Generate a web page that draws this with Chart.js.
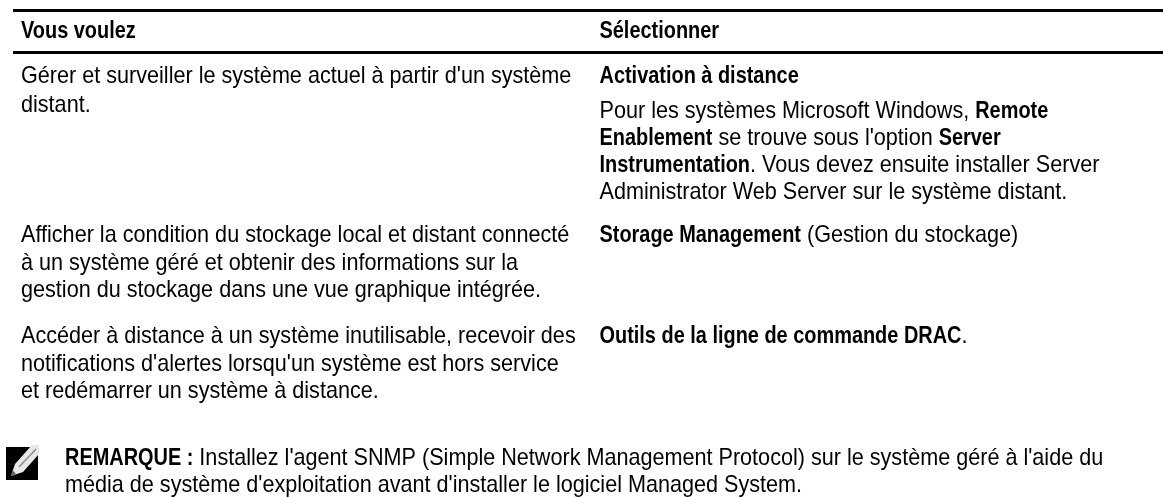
<!DOCTYPE html>
<html>
<head>
<meta charset="utf-8">
<style>
html, body { margin: 0; padding: 0; background: #fff; }
#wrap { width: 1163px; height: 497px; }
</style>
<script src="https://cdn.jsdelivr.net/npm/chart.js@4/dist/chart.umd.js"></script>
</head>
<body>
<div id="wrap"><canvas id="chart" width="1163" height="497"></canvas></div>
<script>
// text pieces, [string, bold]
const headerLeft = [["Vous voulez", 1]];
const headerRight = [["Sélectionner", 1]];
const leftLines = [
    [["Gérer et surveiller le système actuel à partir d'un système", 0]],
    [["distant.", 0]],
    [["Afficher la condition du stockage local et distant connecté", 0]],
    [["à un système géré et obtenir des informations sur la", 0]],
    [["gestion du stockage dans une vue graphique intégrée.", 0]],
    [["Accéder à distance à un système inutilisable, recevoir des", 0]],
    [["notifications d'alertes lorsqu'un système est hors service", 0]],
    [["et redémarrer un système à distance.", 0]]
];
const rightLines = [
    [["Activation à distance", 1]],
    [["Pour les systèmes Microsoft Windows, ", 0], ["Remote", 1]],
    [["Enablement", 1], [" se trouve sous l'option ", 0], ["Server", 1]],
    [["Instrumentation", 1], [". Vous devez ensuite installer Server", 0]],
    [["Administrator Web Server sur le système distant.", 0]],
    [["Storage Management", 1], [" (Gestion du stockage)", 0]],
    [["Outils de la ligne de commande DRAC", 1], [".", 0]]
];
const noteLines = [
    [["REMARQUE :", 1], [" Installez l'agent SNMP (Simple Network Management Protocol) sur le système géré à l'aide du", 0]],
    [["média de système d'exploitation avant d'installer le logiciel Managed System.", 0]]
];
const headerY = 38;
const leftY = [83, 112, 242, 270, 297, 343, 371, 398];
const rightY = [83, 118, 145, 172, 199, 242, 343];
const noteY = [465, 492];
const ruleY = [10.5, 52.5];
const ruleX = [13, 1163];

const fontFamily = '"Liberation Sans", sans-serif';
const fontSize = 24;
const regularSqueeze = 0.9;
const boldSqueeze = 0.83;

function drawRuns(ctx, runs, x, y) {
    runs.forEach(function (run) {
        const squeeze = run[1] ? boldSqueeze : regularSqueeze;
        ctx.font = (run[1] ? 'bold ' : '') + fontSize + 'px ' + fontFamily;
        ctx.save();
        ctx.translate(x, y);
        ctx.scale(squeeze, 1);
        ctx.fillText(run[0], 0, 0);
        ctx.restore();
        x += ctx.measureText(run[0]).width * squeeze;
    });
}

function drawPenIcon(ctx) {
    ctx.fillStyle = '#000';
    ctx.fillRect(6, 447, 32, 33);
    ctx.fillStyle = '#e8e8e8';
    ctx.beginPath();
    ctx.moveTo(11, 476);
    ctx.lineTo(15, 464);
    ctx.lineTo(32, 445);
    ctx.lineTo(39, 445);
    ctx.lineTo(39, 454);
    ctx.lineTo(23, 472);
    ctx.closePath();
    ctx.fill();
    ctx.strokeStyle = '#8c8c8c';
    ctx.lineWidth = 1.5;
    ctx.beginPath();
    ctx.moveTo(19, 467);
    ctx.lineTo(36, 449);
    ctx.stroke();
    ctx.fillStyle = '#666';
    ctx.beginPath();
    ctx.moveTo(11, 476);
    ctx.lineTo(12.5, 470);
    ctx.lineTo(16, 474);
    ctx.closePath();
    ctx.fill();
}

const textPlugin = {
    id: 'tableText',
    afterDatasetsDraw(chart) {
        const ctx = chart.ctx;
        const sx = chart.scales.x;
        const sy = chart.scales.y;
        ctx.save();
        drawPenIcon(ctx);
        ctx.fillStyle = '#000';
        ctx.textBaseline = 'alphabetic';
        drawRuns(ctx, headerLeft, sx.getPixelForValue(21), sy.getPixelForValue(headerY));
        drawRuns(ctx, headerRight, sx.getPixelForValue(599.5), sy.getPixelForValue(headerY));
        leftLines.forEach(function (l, i) {
            drawRuns(ctx, l, sx.getPixelForValue(21), sy.getPixelForValue(leftY[i]));
        });
        rightLines.forEach(function (l, i) {
            drawRuns(ctx, l, sx.getPixelForValue(599.5), sy.getPixelForValue(rightY[i]));
        });
        noteLines.forEach(function (l, i) {
            drawRuns(ctx, l, sx.getPixelForValue(65), sy.getPixelForValue(noteY[i]));
        });
        ctx.restore();
    }
};

new Chart(document.getElementById('chart'), {
    type: 'line',
    data: {
        datasets: ruleY.map(function (y) {
            return {
                data: ruleX.map(function (x) { return { x: x, y: y }; }),
                borderColor: '#000',
                borderWidth: 3,
                pointRadius: 0
            };
        })
    },
    options: {
        responsive: false,
        animation: false,
        layout: { padding: 0 },
        plugins: { legend: { display: false }, tooltip: { enabled: false } },
        scales: {
            x: { type: 'linear', display: false, min: 0, max: 1163 },
            y: { type: 'linear', display: false, min: 0, max: 497, reverse: true }
        }
    },
    plugins: [textPlugin]
});
</script>
</body>
</html>
